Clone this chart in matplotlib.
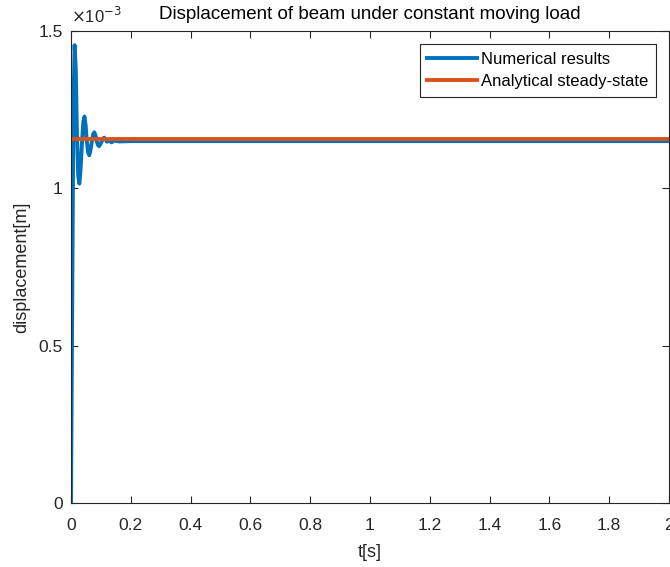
import matplotlib.pyplot as plt
from matplotlib.ticker import FuncFormatter

plt.rcParams['font.family'] = ['Liberation Sans', 'DejaVu Sans']

# numerical response (t in s, displacement in 1e-3 m)
t_num = [0.0, 0.004, 0.008, 0.012, 0.016, 0.020, 0.024, 0.028, 0.032,
         0.037, 0.041, 0.045, 0.049, 0.053, 0.057, 0.061, 0.065, 0.070,
         0.074, 0.078, 0.082, 0.086, 0.090, 0.094, 0.098, 0.103, 0.107,
         0.111, 0.115, 0.120, 0.127, 0.135, 0.145, 0.16, 0.2, 0.5, 1.0, 1.5, 2.0]
d_num = [0.0, 0.62, 1.25, 1.455, 1.38, 1.17, 1.04, 1.015, 1.06,
         1.15, 1.21, 1.228, 1.20, 1.15, 1.115, 1.105, 1.12, 1.15,
         1.172, 1.178, 1.168, 1.15, 1.138, 1.134, 1.14, 1.15, 1.158,
         1.161, 1.157, 1.148, 1.153, 1.146, 1.152, 1.149, 1.150, 1.150, 1.150, 1.150, 1.150]

# analytical steady-state value
t_ana = [0.0, 2.0]
d_ana = [1.156, 1.156]

fig = plt.figure(figsize=(6.7, 5.67), dpi=100)
ax = fig.add_axes([71 / 670, 1 - 503 / 567, 598 / 670, 472 / 567])

ax.plot(t_num, [v * 1e-3 for v in d_num], color='#0072BD', lw=2.8, label='Numerical results')
ax.plot(t_ana, [v * 1e-3 for v in d_ana], color='#D95319', lw=2.8, label='Analytical steady-state')

ax.set_xlim(0, 2)
ax.set_ylim(0, 1.5e-3)
ax.set_xticks([0, 0.2, 0.4, 0.6, 0.8, 1, 1.2, 1.4, 1.6, 1.8, 2])
ax.set_yticks([0, 0.5e-3, 1e-3, 1.5e-3])
ax.xaxis.set_major_formatter(FuncFormatter(lambda v, p: ('%g' % round(v, 2))))
ax.yaxis.set_major_formatter(FuncFormatter(lambda v, p: ('%g' % round(v * 1e3, 2))))
ax.tick_params(direction='in', top=True, right=True, length=5, width=0.8,
               labelsize=12.5, colors='#262626')
ax.tick_params(axis='x', pad=11)
ax.tick_params(axis='y', pad=6)
for s in ax.spines.values():
    s.set_color('#262626')
    s.set_linewidth(0.8)

ax.text(0.0, 1.01, r'$\times$10$^{-3}$', transform=ax.transAxes, fontsize=12,
        color='#262626', ha='left', va='bottom')
ax.set_title('Displacement of beam under constant moving load', fontsize=13.5, pad=8.5)
ax.set_xlabel('t[s]', fontsize=13, color='#262626', labelpad=8)
ax.set_ylabel('displacement[m]', fontsize=13, color='#262626', labelpad=6)

leg = ax.legend(loc='upper right', fontsize=12, fancybox=False, framealpha=1,
                edgecolor='#262626', borderaxespad=0.78, handlelength=3.0,
                handletextpad=0.25, borderpad=0.45, labelspacing=0.45)
leg.get_frame().set_linewidth(0.8)

plt.savefig('out.png', dpi=100)
